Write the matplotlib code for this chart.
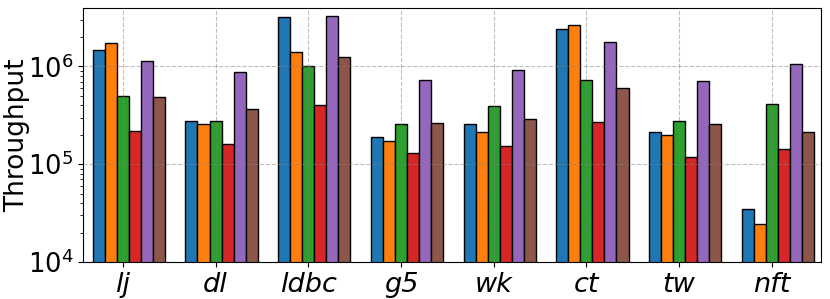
import matplotlib
matplotlib.use("Agg")
import matplotlib.pyplot as plt
import numpy as np

# data
datasets = ["lj", "dl", "ldbc", "g5", "wk", "ct", "tw", "nft"]
colors = ["#1f77b4", "#ff7f0e", "#2ca02c", "#d62728", "#9467bd", "#8c564b"]

s1 = [1.46e6, 2.78e5, 3.23e6, 1.92e5, 2.55e5, 2.43e6, 2.16e5, 3.47e4]
s2 = [1.74e6, 2.55e5, 1.40e6, 1.74e5, 2.16e5, 2.63e6, 2.00e5, 2.47e4]
s3 = [4.98e5, 2.74e5, 1.00e6, 2.55e5, 3.93e5, 7.26e5, 2.78e5, 4.18e5]
s4 = [2.18e5, 1.62e5, 4.08e5, 1.31e5, 1.53e5, 2.72e5, 1.18e5, 1.43e5]
s5 = [1.13e6, 8.77e5, 3.25e6, 7.19e5, 9.10e5, 1.76e6, 7.14e5, 1.05e6]
s6 = [4.90e5, 3.69e5, 1.26e6, 2.65e5, 2.92e5, 6.05e5, 2.59e5, 2.16e5]
series = [s1, s2, s3, s4, s5, s6]

fig = plt.figure(figsize=(8.3, 2.99), dpi=100)
ax = fig.add_axes([0.1, 0.124, 0.889, 0.849])

x = np.arange(len(datasets))
width = 0.13
for i, vals in enumerate(series):
    ax.bar(x + (i - 2) * width, vals, width, color=colors[i],
           edgecolor="black", linewidth=1.0)

ax.set_yscale("log")
ax.set_ylim(1e4, 3.96e6)
ax.set_xlim(-0.43, 7.53)
ax.set_xticks(x)
ax.set_xticklabels(datasets, fontsize=19.5, fontstyle="italic")
ax.tick_params(axis="y", labelsize=18.5)
ax.set_ylabel("Throughput", fontsize=19)
ax.yaxis.set_label_coords(-0.071, 0.5)

ax.set_axisbelow(False)
ax.grid(True, which="major", linestyle="--", color="gray", alpha=0.5, linewidth=0.8)

fig.savefig("out.png", dpi=100)
